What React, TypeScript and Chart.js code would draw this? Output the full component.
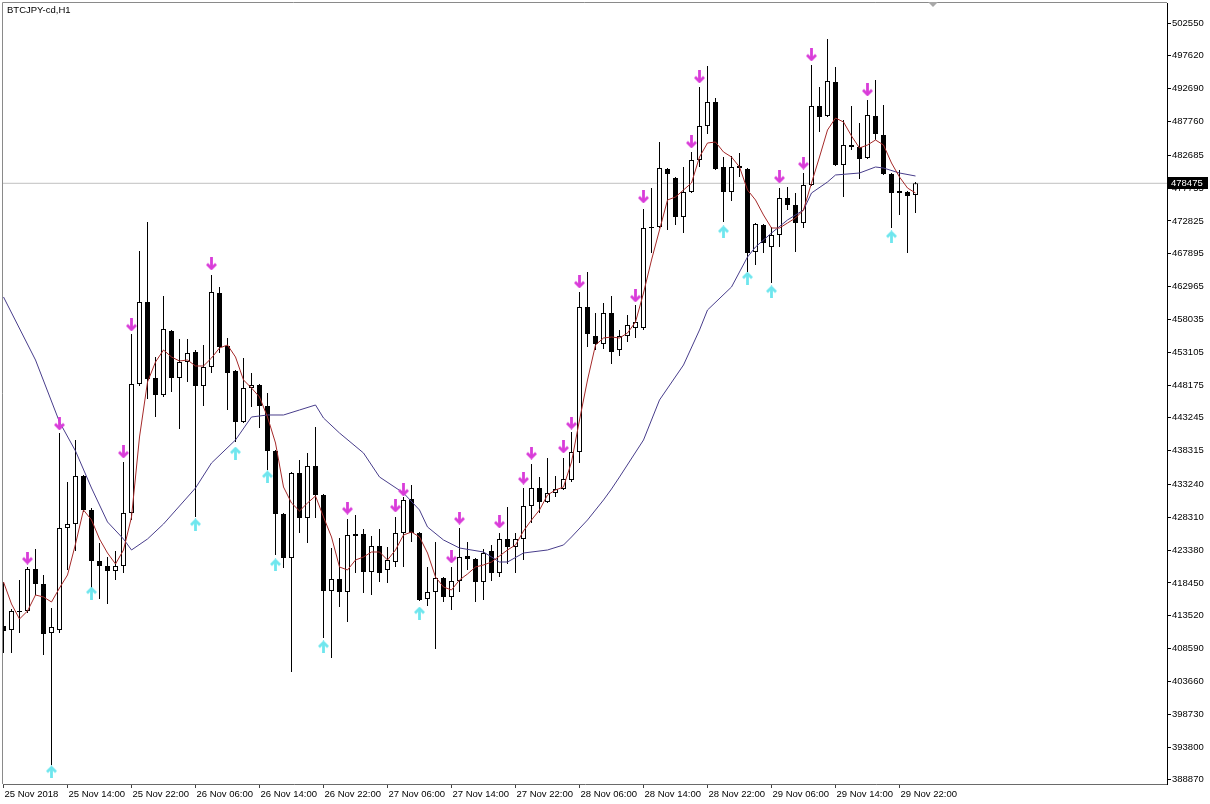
import React, { useEffect, useRef } from 'react';
import { Chart, registerables } from 'chart.js';

Chart.register(...registerables);

const symbolTitle = 'BTCJPY-cd,H1';
const lastPrice = 478475;

const timeLabelIndex = [0, 8, 16, 24, 32, 40, 48, 56, 64, 72, 80, 88, 96, 104, 112];
const timeLabels = [
  '25 Nov 2018', '25 Nov 14:00', '25 Nov 22:00', '26 Nov 06:00', '26 Nov 14:00',
  '26 Nov 22:00', '27 Nov 06:00', '27 Nov 14:00', '27 Nov 22:00', '28 Nov 06:00',
  '28 Nov 14:00', '28 Nov 22:00', '29 Nov 06:00', '29 Nov 14:00', '29 Nov 22:00',
];

const priceTicks = [
  502550, 497620, 492690, 487760, 482685, 477755, 472825, 467895, 462965, 458035,
  453105, 448175, 443245, 438315, 433240, 428310, 423380, 418450, 413520, 408590,
  403660, 398730, 393800, 388870,
];

const opens = [
  411980, 411379, 414083, 414233, 420541, 418288, 410928, 411379, 426699, 427300,
  434510, 429403, 421743, 420992, 420241, 420992, 428952, 448328, 460645, 449229,
  446676, 456289, 449229, 451633, 453135, 448028, 450882, 461996, 454036, 450281,
  442621, 447727, 448178, 445024, 438265, 428802, 422193, 434960, 428201, 436012,
  431656, 417237, 419039, 417087, 425798, 425798, 420091, 423996, 420391, 421593,
  425948, 431055, 425948, 416035, 417087, 419189, 416336, 418739, 422494, 422043,
  418589, 423245, 419940, 425047, 423846, 425047, 430004, 432707, 430605, 431956,
  432557, 433909, 438115, 459894, 455538, 454336, 458992, 453435, 455538, 456739,
  456739, 471759, 471910, 480621, 479269, 473412, 477167, 481973, 487080, 490685,
  480922, 477167, 481072, 480621, 468155, 472210, 468906, 470708, 476265, 475214,
  472510, 478218, 490084, 488582, 493689, 481222, 484226, 483926, 482273, 488582,
  485728, 479870, 477317, 477167, 476716,
];

const highs = [
  418589, 414533, 418889, 420842, 423545, 419640, 414683, 440968, 433609, 439917,
  434660, 429703, 424446, 422344, 423245, 436613, 455838, 468305, 472661, 452384,
  461546, 456439, 455087, 455087, 453435, 454186, 464700, 462898, 455237, 450431,
  452233, 449980, 448328, 446976, 438415, 428952, 435111, 436913, 437964, 441870,
  431806, 423695, 425197, 428051, 428652, 426549, 425498, 426549, 423846, 428352,
  431356, 433158, 426099, 420842, 424597, 419340, 420842, 426699, 424597, 422193,
  423545, 424146, 425948, 429854, 425948, 432707, 436312, 434360, 437213, 434510,
  437213, 441119, 462147, 465151, 458992, 460494, 461546, 456439, 458692, 460194,
  474613, 477767, 484677, 480771, 479420, 480922, 483175, 492938, 496092, 491285,
  482424, 482574, 483024, 480771, 472510, 472360, 471910, 477767, 477918, 477016,
  480020, 496242, 492938, 500147, 495942, 487981, 490084, 487530, 490985, 493989,
  490234, 480020, 480471, 477317, 478669,
];

const lows = [
  407924, 407924, 410928, 413932, 416636, 407624, 391102, 410928, 420391, 423245,
  429103, 417537, 416035, 415284, 418889, 419940, 427901, 448028, 446075, 443372,
  446376, 447127, 441569, 448629, 428352, 445024, 449980, 452984, 444423, 439617,
  442470, 444874, 441719, 435411, 422644, 420691, 405071, 425948, 424446, 428201,
  410177, 407173, 414834, 412581, 419940, 416936, 416636, 418589, 418438, 420842,
  420842, 424597, 415735, 414984, 408525, 415585, 414383, 417087, 420391, 415585,
  415885, 418739, 419340, 421292, 419940, 421893, 427450, 428952, 430454, 431356,
  432407, 433609, 436462, 453886, 453435, 453585, 451332, 452534, 454637, 455237,
  456439, 468004, 471759, 471459, 472210, 471008, 477016, 480922, 485878, 480471,
  472661, 475815, 479420, 465151, 466202, 468004, 463498, 468906, 474463, 468155,
  471759, 478068, 486179, 488432, 481072, 476416, 483475, 479119, 482123, 484977,
  479720, 471759, 473712, 468004, 474012,
];

const closes = [
  411229, 414233, 414233, 420541, 418288, 410778, 411830, 426699, 427300, 434510,
  429403, 421743, 420992, 420241, 420992, 428952, 448328, 460645, 449079, 446676,
  456589, 449229, 451633, 452984, 448028, 450882, 462147, 453886, 449980, 442621,
  447727, 448178, 445024, 438265, 428802, 422193, 434960, 428201, 436012, 431656,
  417237, 419039, 417087, 425648, 425498, 420091, 423996, 419940, 421893, 425948,
  430905, 425948, 415885, 417087, 419189, 416336, 418739, 422344, 422043, 418589,
  422944, 419940, 425047, 423846, 425047, 430004, 432707, 430605, 431956, 432557,
  434059, 438115, 459894, 455838, 454336, 458992, 453135, 455538, 457190, 457641,
  471759, 471910, 480771, 479870, 473412, 477167, 481973, 487080, 490685, 480621,
  477167, 480922, 480771, 468004, 472360, 469506, 470708, 476265, 475214, 472510,
  478218, 490084, 488432, 493839, 481222, 484226, 483926, 482123, 488732, 485878,
  479870, 477016, 477016, 476566, 478475,
];

const fastMA = [
  418589, 415284, 413031, 414233, 416636, 416336, 415585, 417687, 419640, 424296,
  429403, 427901, 425047, 422944, 421292, 423395, 428352, 440368, 448629, 451633,
  453435, 452384, 451783, 451933, 451032, 451032, 452233, 453735, 454186, 452384,
  448929, 447727, 446376, 443372, 439466, 432858, 430454, 429253, 430454, 431506,
  428352, 425348, 420842, 420391, 421893, 422344, 423095, 423095, 421893, 423395,
  425648, 426099, 425348, 422944, 419340, 417838, 417387, 418889, 419790, 420842,
  421142, 421593, 422494, 423395, 424146, 426249, 427901, 429403, 431656, 432407,
  432858, 436613, 442921, 448929, 454186, 455237, 455388, 455237, 455988, 457641,
  461996, 466953, 471459, 475965, 476416, 477467, 478518, 482424, 484526, 484677,
  483175, 482424, 480922, 477467, 475965, 473712, 471759, 471759, 472510, 473261,
  474463, 478518, 482424, 486479, 488281, 487681, 485578, 483775, 484226, 484977,
  484226, 481522, 479420, 477767, 477016,
];

const slowMAIndex = [
  0, 4, 7, 9, 11, 13, 15, 16, 18, 20, 24, 26, 29, 31, 33, 35, 37, 39, 40, 42,
  45, 47, 50, 52, 53, 55, 57, 60, 62, 63, 65, 68, 70, 71, 73, 75, 76, 77, 80, 82,
  85, 87, 88, 91, 93, 94, 96, 98, 100, 101, 103, 104, 107, 109, 110, 112, 114,
];
const slowMA = [
  461396, 451933, 442621, 438265, 432707, 427601, 425047, 423395, 425047, 427300,
  432707, 436462, 439917, 443372, 443672, 443672, 444423, 445174, 443221, 440968,
  437964, 434360, 431956, 429403, 426850, 424897, 423695, 423095, 421593, 421593,
  422944, 423395, 424146, 425348, 427901, 430905, 432557, 434360, 439917, 445925,
  451182, 456439, 459443, 462898, 467404, 468906, 471008, 472961, 474463, 477016,
  478669, 479720, 480020, 480922, 480771, 480020, 479570,
];

const downArrowIndex = [3, 7, 15, 16, 26, 43, 49, 50, 56, 57, 62, 65, 66, 70, 71, 72, 79, 80, 86, 87, 97, 100, 101, 108];
const downArrowPrice = [
  422193, 442320, 438115, 457190, 466352, 429703, 430004, 432407, 422344, 428201,
  427601, 434209, 437964, 438866, 442470, 463649, 461546, 476416, 484677, 494440,
  479420, 481522, 497744, 492487,
];
const upArrowIndex = [6, 11, 24, 29, 33, 34, 40, 52, 90, 93, 96, 111];
const upArrowPrice = [390051, 416936, 427150, 437964, 434360, 421142, 408826, 413932, 471159, 464249, 462147, 470408];

const X_MIN = -0.0625;
const X_MAX = 145.4375;
const Y_MIN = 388248;
const Y_MAX = 505554;
const FONT = { family: '"Liberation Sans", Arial, sans-serif', size: 9.5 };

function makeArrow(color: string, down: boolean): HTMLCanvasElement {
  const c = document.createElement('canvas');
  c.width = 11;
  c.height = 13;
  const g = c.getContext('2d') as CanvasRenderingContext2D;
  if (!down) {
    g.translate(0, 13);
    g.scale(1, -1);
  }
  g.strokeStyle = color;
  g.lineWidth = 2.8;
  g.lineCap = 'butt';
  g.lineJoin = 'miter';
  g.beginPath();
  g.moveTo(5.5, 0);
  g.lineTo(5.5, 11);
  g.stroke();
  g.beginPath();
  g.moveTo(1, 6.5);
  g.lineTo(5.5, 11);
  g.lineTo(10, 6.5);
  g.stroke();
  return c;
}

const decorPlugin = {
  id: 'mtDecor',
  beforeDatasetsDraw(chart: any) {
    const { ctx, chartArea } = chart;
    ctx.save();
    ctx.strokeStyle = '#8a8a8a';
    ctx.lineWidth = 1;
    ctx.beginPath();
    ctx.moveTo(chartArea.left - 0.5, chartArea.bottom);
    ctx.lineTo(chartArea.left - 0.5, chartArea.top - 0.5);
    ctx.lineTo(chartArea.right, chartArea.top - 0.5);
    ctx.stroke();
    ctx.restore();
  },
  afterDraw(chart: any) {
    const { ctx, chartArea } = chart;
    const yScale = chart.scales.y;
    const xScale = chart.scales.x;
    ctx.save();
    ctx.font = `${FONT.size}px ${FONT.family}`;
    ctx.textBaseline = 'middle';
    ctx.textAlign = 'left';
    ctx.fillStyle = '#000';
    ctx.fillText(symbolTitle, chartArea.left + 4, chartArea.top + 7);
    const py = Math.round(yScale.getPixelForValue(lastPrice));
    ctx.fillStyle = '#000';
    ctx.fillRect(chartArea.right + 1, py - 6, 40, 12);
    ctx.fillStyle = '#fff';
    ctx.fillText(String(lastPrice), chartArea.right + 4, py + 0.5);
    const sx = Math.round(xScale.getPixelForValue(116.2));
    ctx.fillStyle = '#a8a8a8';
    ctx.beginPath();
    ctx.moveTo(sx - 5, chartArea.top - 1);
    ctx.lineTo(sx + 5, chartArea.top - 1);
    ctx.lineTo(sx, chartArea.top + 4);
    ctx.closePath();
    ctx.fill();
    ctx.restore();
  },
};

export default function App() {
  const canvasRef = useRef<HTMLCanvasElement | null>(null);

  useEffect(() => {
    const canvas = canvasRef.current;
    if (!canvas) return;
    const downImg = makeArrow('#d93cd9', true);
    const upImg = makeArrow('#6ee6ee', false);

    const wickData = lows.map((l, i) => ({ x: i, y: [l, highs[i]] }));
    const bodyData = opens.map((o, i) => ({ x: i, y: [o, closes[i]] }));
    const bodyColors = opens.map((o, i) => (closes[i] >= o ? '#ffffff' : '#000000'));
    const fastData = fastMA.map((v, i) => ({ x: i, y: v }));
    const slowData = slowMAIndex.map((k, j) => ({ x: k, y: slowMA[j] }));
    const downData = downArrowIndex.map((k, j) => ({ x: k, y: downArrowPrice[j] }));
    const upData = upArrowIndex.map((k, j) => ({ x: k, y: upArrowPrice[j] }));

    const chart = new Chart(canvas, {
      type: 'bar',
      data: {
        datasets: [
          {
            type: 'line',
            label: 'price',
            data: [{ x: X_MIN, y: lastPrice }, { x: X_MAX, y: lastPrice }],
            borderColor: '#c0c0c0',
            borderWidth: 1,
            pointRadius: 0,
            order: 6,
          } as any,
          {
            type: 'bar',
            label: 'wick',
            data: wickData,
            backgroundColor: '#000',
            borderWidth: 0,
            barThickness: 1,
            grouped: false,
            inflateAmount: 0,
            order: 5,
          } as any,
          {
            type: 'bar',
            label: 'body',
            data: bodyData,
            backgroundColor: bodyColors,
            borderColor: '#000',
            borderWidth: 1,
            borderSkipped: false,
            barThickness: 5,
            grouped: false,
            inflateAmount: 0,
            order: 4,
          } as any,
          {
            type: 'line',
            label: 'slow',
            data: slowData,
            borderColor: '#483d8b',
            borderWidth: 1,
            pointRadius: 0,
            tension: 0,
            order: 3,
          } as any,
          {
            type: 'line',
            label: 'fast',
            data: fastData,
            borderColor: '#a52a2a',
            borderWidth: 1,
            pointRadius: 0,
            tension: 0,
            order: 2,
          } as any,
          {
            type: 'line',
            label: 'down',
            data: downData,
            showLine: false,
            pointStyle: downImg,
            pointRadius: 6,
            order: 1,
          } as any,
          {
            type: 'line',
            label: 'up',
            data: upData,
            showLine: false,
            pointStyle: upImg,
            pointRadius: 6,
            order: 0,
          } as any,
        ],
      },
      options: {
        animation: false,
        responsive: false,
        devicePixelRatio: 1,
        events: [],
        layout: { autoPadding: false, padding: { left: 3, top: 3, right: 0, bottom: 0 } },
        plugins: {
          legend: { display: false },
          tooltip: { enabled: false },
          title: { display: false },
        },
        scales: {
          x: {
            type: 'linear',
            position: 'bottom',
            min: X_MIN,
            max: X_MAX,
            offset: false,
            afterBuildTicks: (s: any) => {
              s.ticks = timeLabelIndex.map((v) => ({ value: v }));
            },
            afterFit: (s: any) => {
              s.height = 20;
              s.paddingLeft = 0;
              s.paddingRight = 0;
              s.paddingTop = 0;
              s.paddingBottom = 0;
            },
            ticks: {
              autoSkip: false,
              maxRotation: 0,
              minRotation: 0,
              align: 'start',
              padding: 1,
              labelOffset: 1,
              color: '#000',
              font: FONT,
              callback: (v: any) => {
                const k = timeLabelIndex.indexOf(Number(v));
                return k >= 0 ? timeLabels[k] : '';
              },
            },
            grid: {
              display: true,
              drawOnChartArea: false,
              drawTicks: true,
              tickLength: 4,
              color: '#404040',
              offset: false,
            },
            border: { display: true, color: '#6a6a6a' },
          },
          y: {
            type: 'linear',
            position: 'right',
            min: Y_MIN,
            max: Y_MAX,
            afterBuildTicks: (s: any) => {
              s.ticks = priceTicks.map((v) => ({ value: v }));
            },
            afterFit: (s: any) => {
              s.width = 43;
              s.paddingLeft = 0;
              s.paddingRight = 0;
              s.paddingTop = 0;
              s.paddingBottom = 0;
            },
            ticks: {
              autoSkip: false,
              padding: 1,
              color: '#000',
              font: FONT,
              callback: (v: any) => String(v),
            },
            grid: {
              display: true,
              drawOnChartArea: false,
              drawTicks: true,
              tickLength: 4,
              color: '#000',
            },
            border: { display: true, color: '#000' },
          },
        },
      } as any,
      plugins: [decorPlugin],
    });

    return () => {
      chart.destroy();
    };
  }, []);

  return (
    <div style={{ position: 'absolute', left: 0, top: 0, width: 1210, height: 804, background: '#fff' }}>
      <canvas ref={canvasRef} width={1210} height={804} style={{ display: 'block', width: 1210, height: 804 }} />
    </div>
  );
}
